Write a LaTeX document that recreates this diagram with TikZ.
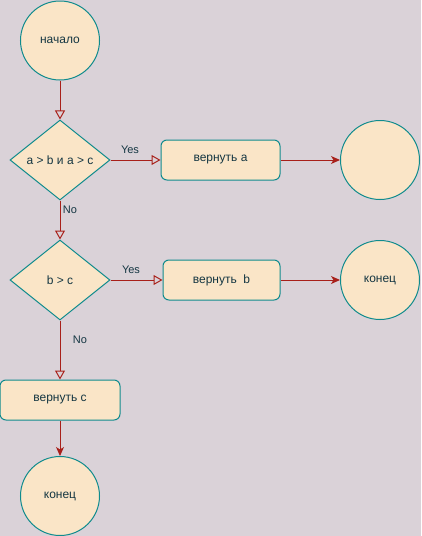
\documentclass[tikz,border=0pt]{standalone}
\usepackage{fontspec}
\setmainfont{Liberation Sans}
\usetikzlibrary{shapes.geometric,arrows.meta}
\definecolor{bgc}{HTML}{DAD2D8}
\definecolor{fillc}{HTML}{FAE5C7}
\definecolor{linec}{HTML}{0F8B8D}
\definecolor{textc}{HTML}{143642}
\definecolor{edgec}{HTML}{A8201A}
\begin{document}
\begin{tikzpicture}[x=1pt,y=-1pt,
  every node/.style={font=\fontsize{12}{14}\selectfont, text=textc},
  terminal/.style={circle, draw=linec, fill=fillc, line width=1pt, minimum size=79pt, inner sep=0pt},
  decision/.style={diamond, draw=linec, fill=fillc, line width=1pt, minimum width=100pt, minimum height=80pt, inner sep=0pt},
  action/.style={rectangle, rounded corners=6pt, draw=linec, fill=fillc, line width=1pt, minimum height=40pt, inner sep=0pt},
  flow/.style={draw=edgec, line width=1pt},
  openhead/.style={flow, -{Triangle[open, length=9pt, width=10pt]}},
  solidhead/.style={flow, -{Stealth[length=9pt, width=8pt, inset=2.5pt]}},
  branch/.style={font=\fontsize{11}{13}\selectfont, text=textc}]
  \fill[bgc] (0,0) rectangle (421,536);
  \useasboundingbox (0,0) rectangle (421,536);

  % nodes
  \node[terminal] (start) at (60,40.5) {начало};
  \node[decision] (d1) at (60,160) {a > b и a > c};
  \node[action, minimum width=119pt] (ra) at (220.5,160) {вернуть a};
  \node[terminal] (enda) at (380,160) {};
  \node[decision] (d2) at (60,280) {b > c};
  \node[action, minimum width=117pt] (rb) at (221.5,280) {вернуть\ \ b};
  \node[terminal] (endb) at (380,280) {конец};
  \node[action, minimum width=120pt] (rc) at (60,400) {вернуть c};
  \node[terminal] (endc) at (60,496) {конец};

  % connectors
  \draw[openhead] (start) -- (d1);
  \draw[openhead] (d1.east) -- (ra.west);
  \draw[solidhead] (ra.east) -- (enda.west);
  \draw[openhead] (d1.south) -- (d2.north);
  \draw[openhead] (d2.east) -- (rb.west);
  \draw[solidhead] (rb.east) -- (endb.west);
  \draw[openhead] (d2.south) -- (rc.north);
  \draw[solidhead] (rc.south) -- (endc.north);

  % branch labels
  \node[branch] (y1) at (130,150) {Yes};
  \node[branch] (n1) at (70,210) {No};
  \node[branch] (y2) at (131,270) {Yes};
  \node[branch] (n2) at (80,340) {No};
\end{tikzpicture}
\end{document}
